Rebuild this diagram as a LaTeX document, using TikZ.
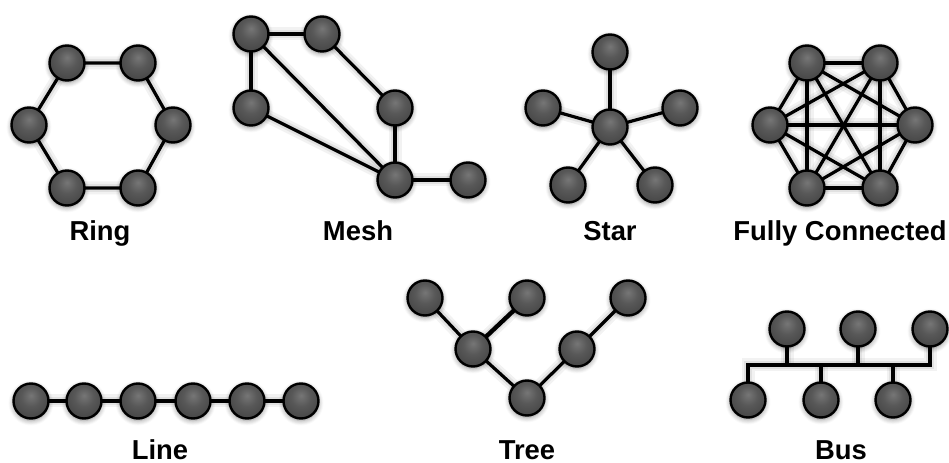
\documentclass[tikz,border=0pt]{standalone}
\usepackage{fontspec}
\setmainfont{Liberation Sans}
\usetikzlibrary{shadows.blur,backgrounds}
\definecolor{nodehi}{HTML}{767676}
\definecolor{nodemid}{HTML}{585858}
\definecolor{nodelo}{HTML}{3A3A3A}
\pgfdeclareradialshading{nodeball}{\pgfpoint{0bp}{8bp}}{color(0bp)=(nodehi); color(14bp)=(nodemid); color(40bp)=(nodelo); color(60bp)=(nodelo)}
\tikzset{
  nd/.style={circle, draw=black, line width=2.4bp, minimum size=35bp, inner sep=0pt,
    shading=nodeball,
    blur shadow={shadow xshift=0bp, shadow yshift=-2bp, shadow blur radius=5bp, shadow blur steps=6, shadow opacity=45}},
  ed/.style={draw=black, line width=3.2bp,
    preaction={draw=black, draw opacity=0.05, line width=13bp},
    preaction={draw=black, draw opacity=0.07, line width=8bp}},
  lbl/.style={font=\bfseries\fontsize{27.5}{28}\selectfont, anchor=base, inner sep=0pt},
}
\begin{document}
\begin{tikzpicture}[x=1bp, y=-1bp]
\useasboundingbox (0,0) rectangle (949,463);
% ---------- Ring
\node[nd] (r1) at (67,63) {};
\node[nd] (r2) at (138,63) {};
\node[nd] (r3) at (173,125) {};
\node[nd] (r4) at (138,188) {};
\node[nd] (r5) at (67,188) {};
\node[nd] (r6) at (29,125) {};
% ---------- Mesh
\node[nd] (m1) at (251,34) {};
\node[nd] (m2) at (322,34) {};
\node[nd] (m3) at (251,108) {};
\node[nd] (m4) at (395,108) {};
\node[nd] (m5) at (395,180) {};
\node[nd] (m6) at (468,180) {};
% ---------- Star
\node[nd] (s0) at (610,127) {};
\node[nd] (s1) at (610,52) {};
\node[nd] (s2) at (543,108) {};
\node[nd] (s3) at (680,108) {};
\node[nd] (s4) at (568,185) {};
\node[nd] (s5) at (655,185) {};
% ---------- Fully connected
\node[nd] (f1) at (807,63) {};
\node[nd] (f2) at (880,63) {};
\node[nd] (f3) at (915,125) {};
\node[nd] (f4) at (880,188) {};
\node[nd] (f5) at (807,188) {};
\node[nd] (f6) at (770,125) {};
% ---------- Line
\node[nd] (l1) at (31,401) {};
\node[nd] (l2) at (84,401) {};
\node[nd] (l3) at (138,401) {};
\node[nd] (l4) at (193,401) {};
\node[nd] (l5) at (247,401) {};
\node[nd] (l6) at (301,401) {};
% ---------- Tree
\node[nd] (t1) at (425,298) {};
\node[nd] (t2) at (527,298) {};
\node[nd] (t3) at (628,298) {};
\node[nd] (t4) at (473,349) {};
\node[nd] (t5) at (577,349) {};
\node[nd] (t6) at (527,398) {};
% ---------- Bus
\node[nd] (u1) at (787,329) {};
\node[nd] (u2) at (858,329) {};
\node[nd] (u3) at (930,329) {};
\node[nd] (d1) at (748,400) {};
\node[nd] (d2) at (821,400) {};
\node[nd] (d3) at (893,400) {};
\coordinate (busL) at (748,365);
\coordinate (busR) at (930,365);
% ---------- Labels
\node[lbl] (lring) at (100,241) {Ring};
\node[lbl] (lmesh) at (358,241) {Mesh};
\node[lbl] (lstar) at (610,241) {Star};
\node[lbl] (lfull) at (840,241) {Fully Connected};
\node[lbl] (lline) at (160,459) {Line};
\node[lbl] (ltree) at (527,459) {Tree};
\node[lbl] (lbus) at (841,459) {Bus};
% ---------- Edges (behind nodes)
\begin{pgfonlayer}{background}
\draw[ed] (r1.center) -- (r2.center) -- (r3.center) -- (r4.center) -- (r5.center) -- (r6.center) -- cycle;
\draw[ed] (m1.center) -- (m2.center);
\draw[ed] (m1.center) -- (m3.center);
\draw[ed] (m1.center) -- (m5.center);
\draw[ed] (m2.center) -- (m4.center);
\draw[ed] (m4.center) -- (m5.center);
\draw[ed] (m3.center) -- (m5.center);
\draw[ed] (m5.center) -- (m6.center);
\foreach \n in {s1,s2,s3,s4,s5} \draw[ed] (s0.center) -- (\n.center);
\foreach \a/\b in {f1/f2,f1/f3,f1/f4,f1/f5,f1/f6,f2/f3,f2/f4,f2/f5,f2/f6,f3/f4,f3/f5,f3/f6,f4/f5,f4/f6,f5/f6}
  \draw[ed] (\a.center) -- (\b.center);
\draw[ed] (l1.center) -- (l2.center) -- (l3.center) -- (l4.center) -- (l5.center) -- (l6.center);
\draw[ed] (t1.center) -- (t4.center) -- (t6.center) -- (t5.center) -- (t3.center);
\draw[ed, line width=4.4bp] (t2.center) -- (t4.center);
\draw[ed] (d1.center) -- (busL) -- (busR) -- (u3.center);
\draw[ed] (u1.center) -- (u1.center |- busL);
\draw[ed] (u2.center) -- (u2.center |- busL);
\draw[ed] (d2.center) -- (d2.center |- busL);
\draw[ed] (d3.center) -- (d3.center |- busL);
\end{pgfonlayer}
\end{tikzpicture}
\end{document}
